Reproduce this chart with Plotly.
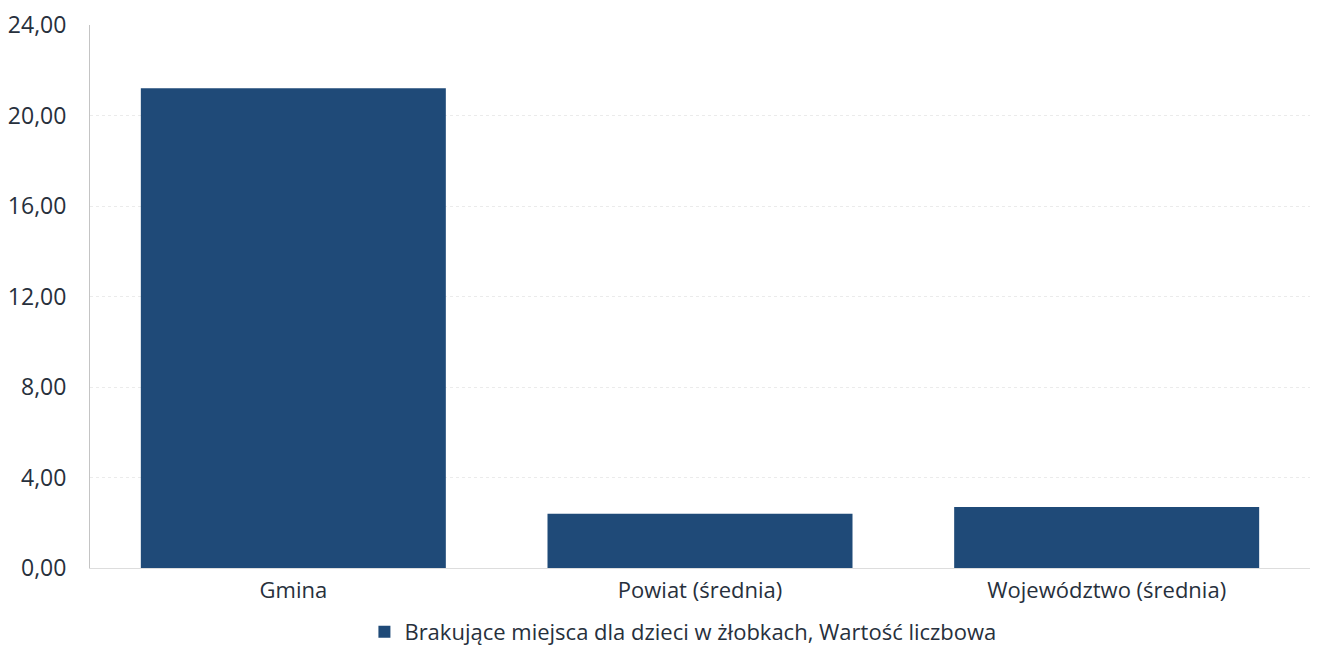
import plotly.graph_objects as go

categories = ["Gmina", "Powiat (średnia)", "Województwo (średnia)"]
values = [21.2, 2.4, 2.7]
series_name = "Brakujące miejsca dla dzieci w żłobkach, Wartość liczbowa"
y_ticks = [0, 4, 8, 12, 16, 20, 24]

fig = go.Figure()
fig.add_trace(go.Bar(
    x=categories, y=values, name=series_name,
    marker=dict(color="#1f4a78", line=dict(width=0)),
    width=0.75, showlegend=True,
))

# page body has an 8px margin, so the figure is sized/offset to compensate
fig.update_layout(
    width=1313, height=642,
    margin=dict(l=82, r=11, t=17, b=82, autoexpand=False),
    paper_bgcolor="white", plot_bgcolor="white",
    separators=", ",
    font=dict(family="Open Sans", size=22, color="#27303c"),
    showlegend=True,
    legend=dict(orientation="h", x=0.486, xanchor="center", y=-0.118, yanchor="middle",
                font=dict(size=22, color="#27303c"), itemwidth=30),
    bargap=0.25,
)
fig.update_xaxes(showgrid=False, showline=True, linecolor="#dddddd", linewidth=1,
                 tickfont=dict(size=22), ticks="", ticklabelstandoff=3, automargin=False)
fig.update_yaxes(range=[0, 24], tickvals=y_ticks, tickformat=".2f",
                 showgrid=True, gridcolor="#ebebeb", griddash="dot", gridwidth=1,
                 showline=True, linecolor="#c4c4c4", linewidth=1, zeroline=False,
                 ticks="", ticklabelstandoff=18, tickfont=dict(size=23), automargin=False)

fig.write_html("out.html")
